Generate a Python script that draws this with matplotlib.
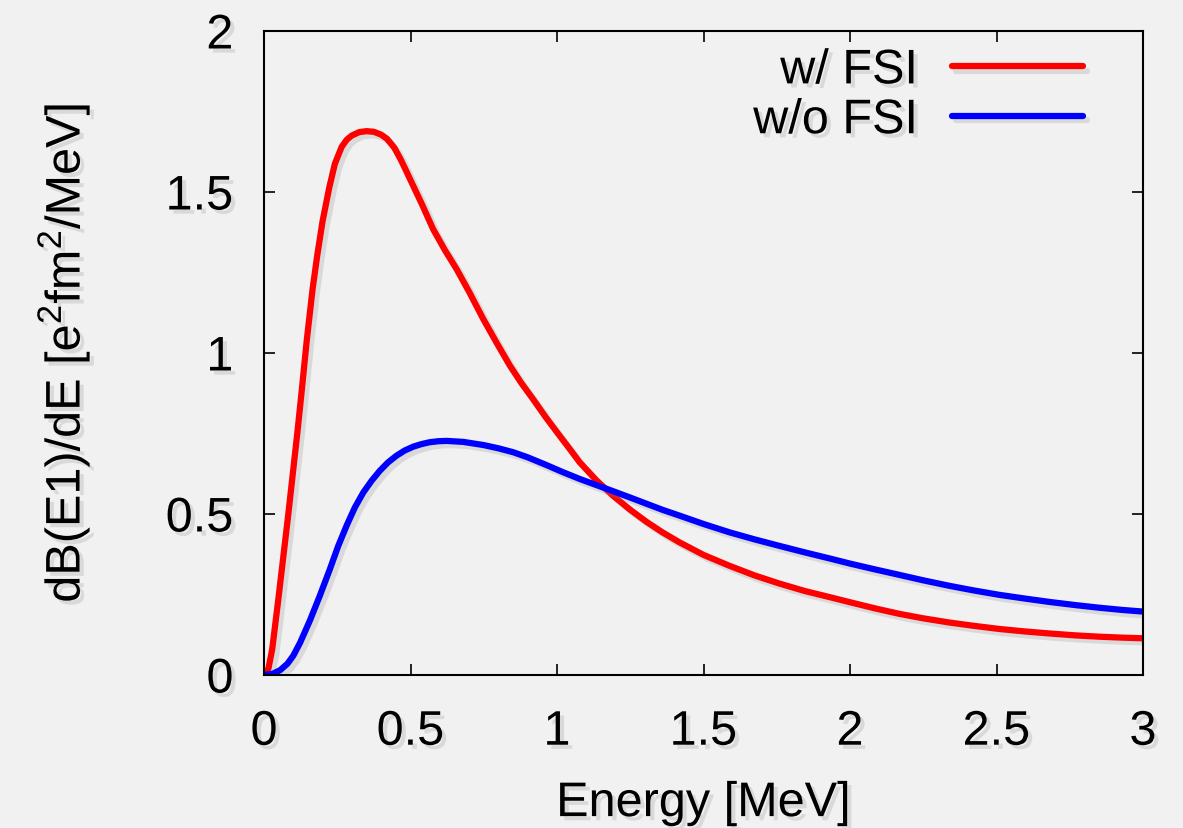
import numpy as np
import matplotlib
matplotlib.use("Agg")
import matplotlib.pyplot as plt
import matplotlib.patheffects as pe

# values
e_fsi = [0.0, 0.015, 0.028, 0.049, 0.083, 0.114, 0.129, 0.146, 0.166, 0.182,
         0.2, 0.223, 0.242, 0.265, 0.282, 0.299, 0.325, 0.35, 0.375,
         0.4, 0.42, 0.445, 0.466, 0.483, 0.5, 0.54, 0.577, 0.617, 0.657,
         0.7, 0.748, 0.795, 0.839, 0.878, 0.918, 0.962, 1.009, 1.045, 1.077,
         1.134, 1.191, 1.25, 1.305, 1.36, 1.418, 1.5, 1.589, 1.675, 1.759,
         1.845, 1.93, 2.0, 2.085, 2.168, 2.25, 2.339, 2.42, 2.509, 2.6,
         2.68, 2.77, 2.85, 2.93, 3.0]
b_fsi = [0.0, 0.02, 0.08, 0.236, 0.5, 0.754, 0.885, 1.04, 1.2, 1.305,
         1.41, 1.515, 1.588, 1.64, 1.662, 1.675, 1.686, 1.689, 1.687,
         1.678, 1.665, 1.637, 1.602, 1.57, 1.537, 1.46, 1.385, 1.32, 1.261,
         1.19, 1.106, 1.03, 0.961, 0.907, 0.857, 0.8, 0.743, 0.7, 0.661,
         0.605, 0.557, 0.513, 0.476, 0.443, 0.412, 0.373, 0.339, 0.309, 0.284,
         0.261, 0.242, 0.226, 0.207, 0.19, 0.176, 0.163, 0.153, 0.143, 0.135,
         0.129, 0.123, 0.119, 0.116, 0.114]

e_nofsi = [0.0, 0.03, 0.055, 0.08, 0.1, 0.123, 0.157, 0.19, 0.225, 0.253,
           0.282, 0.31, 0.339, 0.367, 0.395, 0.423, 0.452, 0.48, 0.509, 0.537,
           0.566, 0.595, 0.623, 0.68, 0.75, 0.8, 0.85, 0.9, 0.964, 1.02,
           1.077, 1.134, 1.191, 1.25, 1.305, 1.36, 1.418, 1.5, 1.589, 1.675,
           1.759, 1.845, 1.93, 2.0, 2.085, 2.168, 2.25, 2.339, 2.42, 2.509,
           2.6, 2.68, 2.77, 2.85, 2.93, 3.0]
b_nofsi = [0.0, 0.004, 0.015, 0.035, 0.06, 0.1, 0.17, 0.245, 0.329, 0.4,
           0.464, 0.52, 0.567, 0.603, 0.634, 0.66, 0.681, 0.697, 0.709, 0.717,
           0.723, 0.726, 0.727, 0.724, 0.714, 0.704, 0.692, 0.676, 0.652, 0.63,
           0.609, 0.59, 0.571, 0.551, 0.532, 0.513, 0.495, 0.469, 0.443, 0.421,
           0.401, 0.381, 0.362, 0.346, 0.328, 0.311, 0.294, 0.277, 0.263, 0.249,
           0.237, 0.227, 0.217, 0.209, 0.202, 0.197]

labels = ["w/ FSI", "w/o FSI"]
colors = ["#ff0000", "#0000ff"]
xticks = [0, 0.5, 1, 1.5, 2, 2.5, 3]
yticks = [0, 0.5, 1, 1.5, 2]

plt.rcParams['font.family'] = ['Liberation Sans', 'DejaVu Sans']
plt.rcParams['mathtext.fontset'] = 'custom'
plt.rcParams['mathtext.rm'] = 'Liberation Sans'

bg = "#f1f1f1"
txt_fx = [pe.withSimplePatchShadow(offset=(3, -3), shadow_rgbFace="#888888", alpha=0.22)]
line_fx = [pe.SimpleLineShadow(offset=(3, -3), shadow_color="#888888", alpha=0.22), pe.Normal()]

fig = plt.figure(figsize=(11.83, 8.29), dpi=100, facecolor=bg)
ax = fig.add_axes([264 / 1183, 1 - 676 / 829, 879 / 1183, 644 / 829])
ax.set_facecolor(bg)

ax.plot(e_fsi, b_fsi, color=colors[0], lw=4.5, label=labels[0],
        solid_capstyle="round", solid_joinstyle="round", path_effects=line_fx)
ax.plot(e_nofsi, b_nofsi, color=colors[1], lw=4.5, label=labels[1],
        solid_capstyle="round", solid_joinstyle="round", path_effects=line_fx)

ax.set_xlim(0, 3)
ax.set_ylim(0, 2)
ax.set_xticks(xticks)
ax.set_yticks(yticks)
ax.set_xticklabels([f"{t:g}" for t in xticks])
ax.set_yticklabels([f"{t:g}" for t in yticks])
ax.tick_params(direction="in", length=8, width=1.2, top=True, right=True,
               labelsize=35, colors="black")
ax.tick_params(axis="x", pad=25)
ax.tick_params(axis="y", pad=22)
for lab in ax.get_xticklabels() + ax.get_yticklabels():
    lab.set_path_effects(txt_fx)
for sp in ax.spines.values():
    sp.set_linewidth(1.5)

ax.set_xlabel("Energy [MeV]", fontsize=35, labelpad=19, path_effects=txt_fx)
ax.set_ylabel(r"dB(E1)/dE [e$^2$fm$^2$/MeV]", fontsize=35, labelpad=53,
              path_effects=txt_fx)

leg = ax.legend(loc="upper right", bbox_to_anchor=(0.932, 0.973), frameon=False,
                fontsize=35, markerfirst=False, handlelength=2.7,
                handletextpad=0.7, labelspacing=0.1, borderpad=0, borderaxespad=0)
for t in leg.get_texts():
    t.set_path_effects(txt_fx)
for h in leg.get_lines():
    h.set_linewidth(4.5)

fig.savefig("out.png", dpi=100, facecolor=bg)
